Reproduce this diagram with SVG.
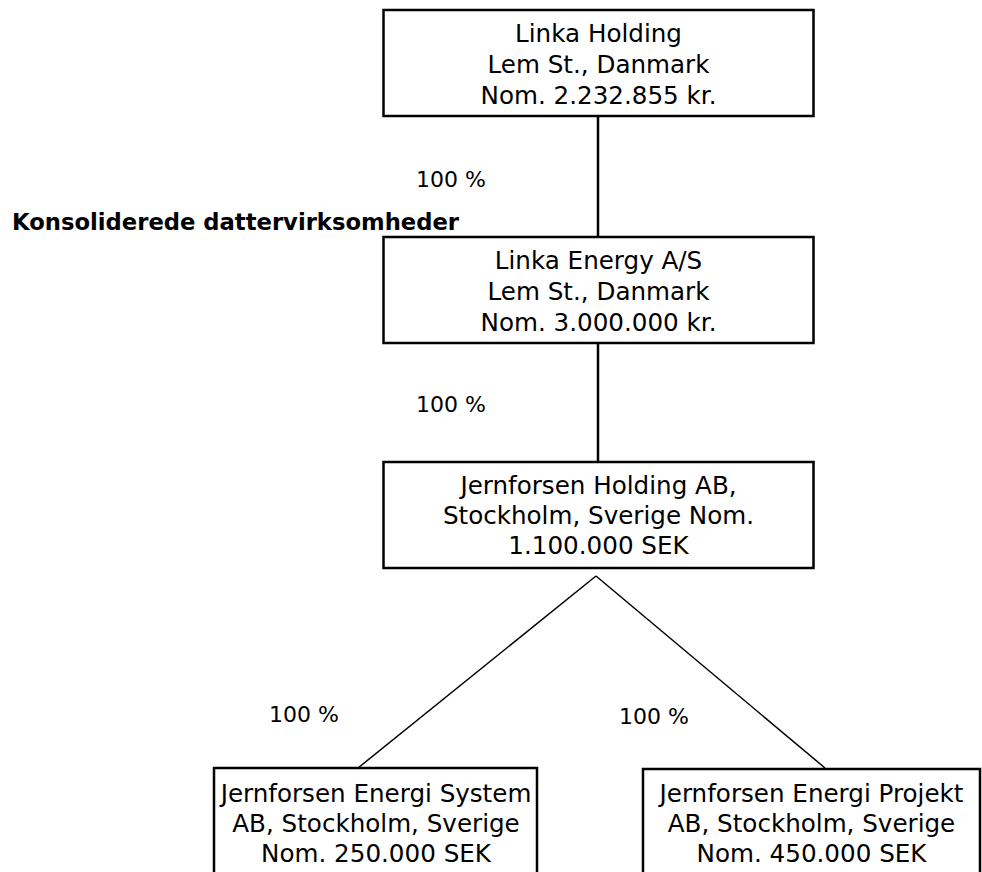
<svg xmlns="http://www.w3.org/2000/svg" width="982" height="872" viewBox="0 0 982 872">
<style>
.box{fill:#fff;stroke:#000;stroke-width:2.5}
.t{font-family:"DejaVu Sans","Verdana",sans-serif;font-size:24.6px;fill:#000;text-anchor:middle}
.lbl{font-family:"DejaVu Sans","Verdana",sans-serif;font-size:22px;fill:#000}
.ttl{font-family:"DejaVu Sans","Verdana",sans-serif;font-size:22.7px;font-weight:bold;fill:#000}
.v{stroke:#000;stroke-width:2.5;fill:none}
.d{stroke:#000;stroke-width:1.5;fill:none}
</style>
<rect width="982" height="872" fill="#fff"/>
<g id="connectors">
<line class="v" x1="598" y1="116" x2="598" y2="237"/>
<line class="v" x1="598" y1="343" x2="598" y2="462"/>
<line class="d" x1="596" y1="576" x2="358" y2="768"/>
<line class="d" x1="596" y1="576" x2="825" y2="768"/>
</g>
<g id="labels">
<text class="lbl" x="416" y="187">100 %</text>
<text class="lbl" x="416" y="412">100 %</text>
<text class="lbl" x="269" y="722">100 %</text>
<text class="lbl" x="619" y="724">100 %</text>
<text class="ttl" x="12" y="230">Konsoliderede dattervirksomheder</text>
</g>
<g id="linka-holding">
<rect class="box" x="383.5" y="10" width="430" height="106"/>
<text class="t" x="598.5" y="42">Linka Holding</text>
<text class="t" x="598.5" y="73">Lem St., Danmark</text>
<text class="t" x="598.5" y="104">Nom. 2.232.855 kr.</text>
</g>
<g id="linka-energy">
<rect class="box" x="383.5" y="237" width="430" height="106"/>
<text class="t" x="598.5" y="269">Linka Energy A/S</text>
<text class="t" x="598.5" y="300">Lem St., Danmark</text>
<text class="t" x="598.5" y="331">Nom. 3.000.000 kr.</text>
</g>
<g id="jernforsen-holding">
<rect class="box" x="383.5" y="462" width="430" height="106"/>
<text class="t" x="598.5" y="494">Jernforsen Holding AB,</text>
<text class="t" x="598.5" y="524">Stockholm, Sverige Nom.</text>
<text class="t" x="598.5" y="554">1.100.000 SEK</text>
</g>
<g id="jernforsen-system">
<rect class="box" x="214" y="768" width="323" height="130"/>
<text class="t" x="376" y="802">Jernforsen Energi System</text>
<text class="t" x="376" y="832">AB, Stockholm, Sverige</text>
<text class="t" x="376" y="862">Nom. 250.000 SEK</text>
</g>
<g id="jernforsen-projekt">
<rect class="box" x="643" y="769" width="337" height="130"/>
<text class="t" x="811.5" y="802">Jernforsen Energi Projekt</text>
<text class="t" x="811.5" y="832">AB, Stockholm, Sverige</text>
<text class="t" x="811.5" y="862">Nom. 450.000 SEK</text>
</g>
</svg>
